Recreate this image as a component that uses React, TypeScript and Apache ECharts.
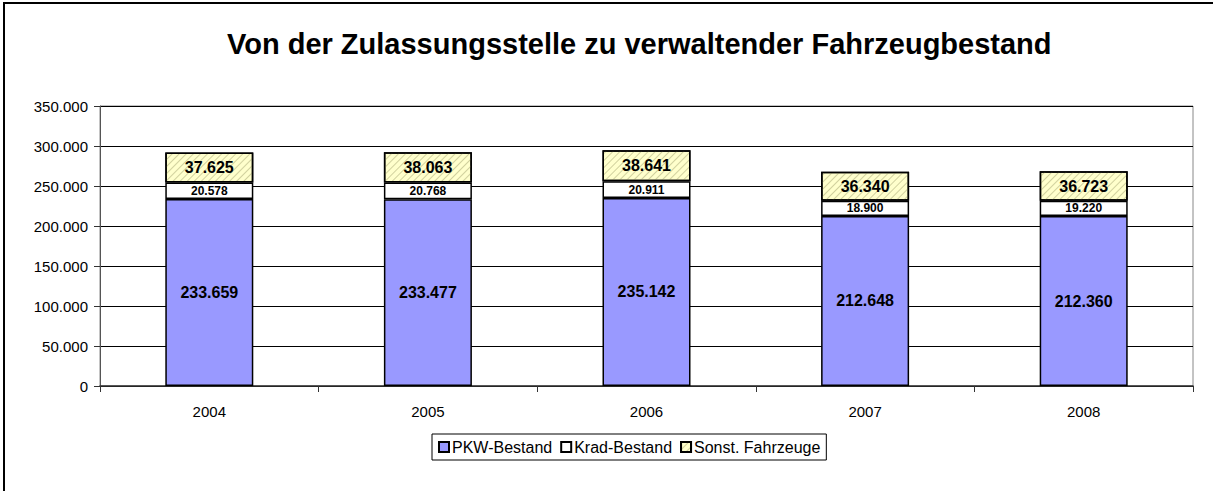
import React, { useEffect, useRef } from "react";
import * as echarts from "echarts";

const years = ["2004", "2005", "2006", "2007", "2008"];
const pkw = [233659, 233477, 235142, 212648, 212360];
const krad = [20578, 20768, 20911, 18900, 19220];
const sonst = [37625, 38063, 38641, 36340, 36723];
const seriesNames = ["PKW-Bestand", "Krad-Bestand", "Sonst. Fahrzeuge"];
const titleText = "Von der Zulassungsstelle zu verwaltender Fahrzeugbestand";

const fmt = (v: number) => String(v).replace(/\B(?=(\d{3})+(?!\d))/g, ".");

export default function App() {
  const ref = useRef<HTMLDivElement>(null);
  useEffect(() => {
    if (!ref.current) return;
    const chart = echarts.init(ref.current, null, { renderer: "svg" });
    const font = "Arial, 'Liberation Sans', sans-serif";
    const baseItem = { borderColor: "#000", borderWidth: 1.5 };
    chart.setOption({
      animation: false,
      backgroundColor: "#fff",
      textStyle: { fontFamily: font },
      title: {
        text: titleText,
        left: 222,
        top: 24,
        textStyle: { fontSize: 29, fontWeight: "bold", color: "#000", fontFamily: font },
      },
      graphic: [
        {
          type: "rect",
          shape: { x: 4, y: 3, width: 1230, height: 510 },
          style: { fill: "none", stroke: "#000", lineWidth: 2 },
          silent: true,
          z: 100,
        },
      ],
      legend: {
        left: 432,
        top: 434,
        padding: [5, 6, 5, 6],
        itemGap: 8,
        itemWidth: 10,
        itemHeight: 10,
        borderColor: "#000",
        borderWidth: 1,
        icon: "rect",
        textStyle: { fontSize: 16, color: "#000", fontFamily: font, padding: [0, 0, 0, -2] },
        data: seriesNames,
      },
      grid: {
        left: 100,
        right: 20,
        top: 106,
        bottom: 105,
        show: true,
        borderColor: "#888",
        borderWidth: 1,
        containLabel: false,
      },
      xAxis: {
        type: "category",
        data: years,
        axisLine: { lineStyle: { color: "#333", width: 1.5 } },
        axisTick: { show: true, length: 6, lineStyle: { color: "#333" } },
        axisLabel: { fontSize: 15, color: "#000", margin: 18, fontFamily: font },
      },
      yAxis: {
        type: "value",
        min: 0,
        max: 350000,
        interval: 50000,
        axisLine: { show: true, lineStyle: { color: "#555" } },
        axisTick: { show: true, length: 6, lineStyle: { color: "#333" } },
        splitLine: { lineStyle: { color: "#000", width: 1 } },
        axisLabel: { fontSize: 15, color: "#000", margin: 12, fontFamily: font, formatter: (v: number) => fmt(v) },
      },
      series: [
        {
          name: seriesNames[0],
          type: "bar",
          stack: "a",
          barWidth: 88,
          data: pkw,
          itemStyle: { ...baseItem, color: "#9999FF" },
          label: {
            show: true,
            position: "inside",
            fontSize: 16,
            fontWeight: "bold",
            color: "#000",
            fontFamily: font,
            formatter: (p: any) => fmt(p.value),
          },
        },
        {
          name: seriesNames[1],
          type: "bar",
          stack: "a",
          barWidth: 88,
          data: krad,
          itemStyle: { ...baseItem, color: "#FFFFFF" },
          label: {
            show: true,
            position: "inside",
            fontSize: 12,
            fontWeight: "bold",
            color: "#000",
            fontFamily: font,
            formatter: (p: any) => fmt(p.value),
          },
        },
        {
          name: seriesNames[2],
          type: "bar",
          stack: "a",
          barWidth: 88,
          data: sonst,
          itemStyle: {
            ...baseItem,
            color: "#FFFFCC",
            decal: {
              symbol: "rect",
              symbolSize: 1,
              dashArrayX: [1, 0],
              dashArrayY: [1, 4],
              rotation: -Math.PI / 4,
              color: "rgba(170,170,120,0.55)",
            },
          },
          label: {
            show: true,
            position: "inside",
            fontSize: 16,
            fontWeight: "bold",
            color: "#000",
            fontFamily: font,
            formatter: (p: any) => fmt(p.value),
          },
        },
      ],
    });
    return () => chart.dispose();
  }, []);
  return (
    <div
      ref={ref}
      style={{ position: "fixed", left: 0, top: 0, width: 1213, height: 491 }}
    />
  );
}
